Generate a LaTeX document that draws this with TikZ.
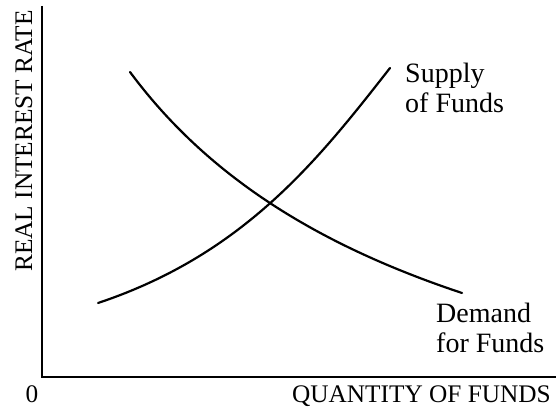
\documentclass[tikz,border=0pt]{standalone}
\usepackage{fontspec}
\setmainfont{Liberation Serif}
\begin{document}
\begin{tikzpicture}[x=1pt,y=-1pt,
  axis/.style={line width=2.6pt},
  curve/.style={line width=2.2pt, line cap=round},
  axlbl/.style={inner sep=0pt, font=\fontsize{25.3}{30}\selectfont},
  lbl/.style={inner sep=0pt, font=\fontsize{28}{30}\selectfont}]
\useasboundingbox (0,0) rectangle (556,411);
\coordinate (top) at (42,6);
\coordinate (origin) at (42,377);
\coordinate (right) at (556,377);
\draw[axis] (top) -- (origin) -- (right);
\coordinate (dA) at (130,72);
\coordinate (dB) at (462,293);
\coordinate (sA) at (98,303);
\coordinate (sB) at (390,68);
\draw[curve] (dA) .. controls (210.5,180.5) and (324,247) .. (dB);
\draw[curve] (sA) .. controls (245,254) and (319.5,158) .. (sB);
\node[axlbl, anchor=base] (zero) at (32,402) {0};
\node[axlbl, anchor=base east] (xlab) at (551,402) {QUANTITY OF FUNDS};
\node[axlbl, anchor=base, rotate=90] (ylab) at (32,141) {REAL INTEREST RATE};
\node[lbl, anchor=base west] (s1) at (405,83) {Supply};
\node[lbl, anchor=base west] (s2) at (405,113) {of Funds};
\node[lbl, anchor=base west] (d1) at (436,322) {Demand};
\node[lbl, anchor=base west] (d2) at (436,352) {for Funds};
\end{tikzpicture}
\end{document}
